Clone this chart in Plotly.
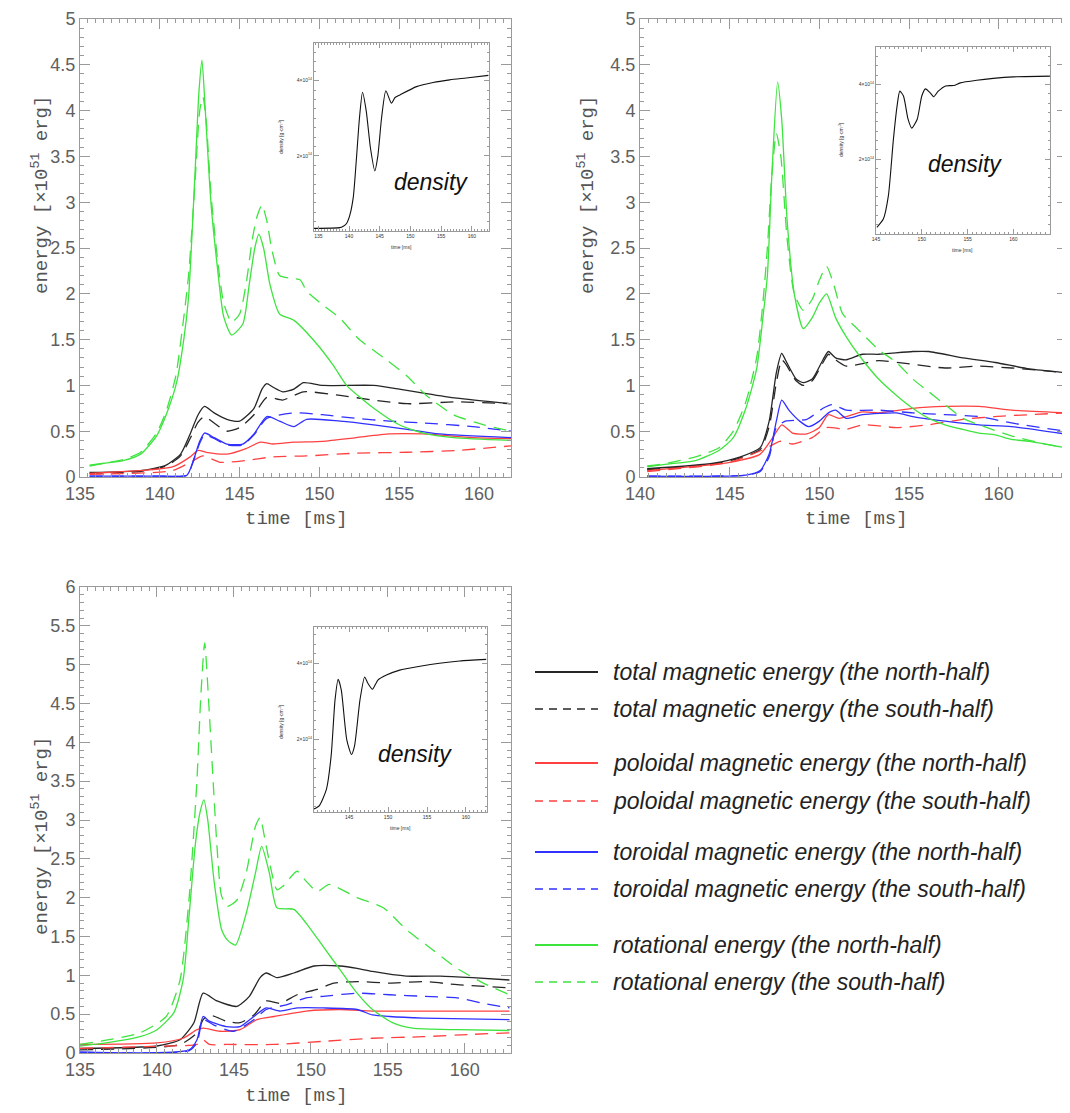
import plotly.graph_objects as go

# page geometry (reference pixel coordinates are converted below; the page body adds an 8px offset)
OFFX, OFFY = 8, 8
FW, FH = 1062, 1105

# ---------------- data: panel A (top-left) ----------------
a_rotN_t = [135.6, 136.5, 137.7, 138.8, 139.8, 140.4, 141.05, 141.5, 141.8, 142.2, 142.45, 142.64, 142.85, 143.2, 143.6, 144.0, 144.5, 145.2, 145.6, 145.95, 146.2, 146.5, 146.9, 147.5, 148.4, 149.8, 150.9, 151.7, 153.4, 155.0, 156.5, 158.4, 162.0]
a_rotN_v = [0.13, 0.15, 0.18, 0.25, 0.45, 0.68, 1.03, 1.5, 1.96, 3.3, 4.2, 4.55, 4.0, 3.0, 2.3, 1.75, 1.55, 1.67, 2.1, 2.5, 2.65, 2.5, 2.1, 1.78, 1.71, 1.46, 1.21, 1.0, 0.75, 0.57, 0.48, 0.43, 0.40]
a_rotS_t = [135.6, 136.5, 137.7, 138.8, 139.8, 140.4, 141.0, 141.4, 141.8, 142.2, 142.5, 142.7, 142.9, 143.2, 143.6, 144.0, 144.5, 145.0, 145.4, 145.8, 146.1, 146.4, 146.7, 147.0, 147.5, 148.2, 148.8, 149.2, 150.2, 151.3, 152.5, 154.2, 155.5, 156.7, 158.4, 160.3, 162.0]
a_rotS_v = [0.12, 0.15, 0.19, 0.27, 0.48, 0.72, 1.1, 1.6, 2.2, 3.2, 4.0, 4.15, 3.9, 3.1, 2.4, 1.9, 1.69, 1.78, 2.1, 2.6, 2.85, 2.97, 2.8, 2.5, 2.2, 2.17, 2.15, 2.03, 1.88, 1.73, 1.5, 1.28, 1.1, 0.89, 0.68, 0.57, 0.5]
a_totN_t = [135.6, 138.8, 140.4, 141.3, 141.9, 142.4, 142.8, 143.4, 144.2, 145.0, 145.9, 146.4, 146.7, 147.1, 147.7, 148.4, 149.0, 150.2, 153.4, 155.0, 156.7, 158.6, 162.0]
a_totN_v = [0.05, 0.07, 0.13, 0.25, 0.47, 0.68, 0.77, 0.70, 0.63, 0.61, 0.75, 0.96, 1.02, 0.98, 0.93, 0.96, 1.03, 1.0, 1.0, 0.96, 0.91, 0.86, 0.80]
a_totS_t = [135.6, 138.8, 140.4, 141.3, 141.9, 142.4, 142.8, 143.4, 144.2, 145.0, 145.9, 146.7, 147.7, 149.0, 151.3, 153.4, 155.5, 158.6, 162.0]
a_totS_v = [0.04, 0.06, 0.12, 0.23, 0.42, 0.60, 0.66, 0.59, 0.50, 0.54, 0.68, 0.87, 0.84, 0.93, 0.89, 0.84, 0.80, 0.82, 0.80]
a_torN_t = [135.6, 140.0, 141.7, 142.1, 142.5, 142.8, 143.4, 144.2, 145.2, 145.9, 146.7, 147.5, 148.4, 149.2, 151.3, 153.4, 155.5, 157.5, 162.0]
a_torN_v = [0.01, 0.01, 0.02, 0.18, 0.39, 0.48, 0.43, 0.36, 0.36, 0.47, 0.66, 0.61, 0.55, 0.63, 0.61, 0.57, 0.52, 0.47, 0.43]
a_torS_t = [135.6, 140.0, 141.7, 142.1, 142.5, 142.8, 143.4, 144.2, 145.2, 145.9, 146.7, 148.4, 150.2, 152.3, 154.4, 156.5, 159.6, 162.0]
a_torS_v = [0.01, 0.01, 0.02, 0.17, 0.37, 0.46, 0.42, 0.35, 0.35, 0.46, 0.64, 0.70, 0.68, 0.64, 0.61, 0.59, 0.55, 0.50]
a_polN_t = [135.6, 140.8, 141.9, 142.4, 142.9, 144.2, 145.4, 146.3, 147.1, 148.4, 150.2, 152.3, 154.4, 156.5, 159.6, 162.0]
a_polN_v = [0.04, 0.11, 0.22, 0.29, 0.27, 0.25, 0.31, 0.38, 0.36, 0.38, 0.39, 0.43, 0.47, 0.47, 0.43, 0.42]
a_polS_t = [135.6, 140.8, 142.1, 142.7, 143.8, 145.4, 147.1, 149.2, 152.3, 155.5, 158.6, 162.0]
a_polS_v = [0.03, 0.07, 0.18, 0.23, 0.16, 0.18, 0.22, 0.23, 0.26, 0.27, 0.29, 0.34]
a_dens_t = [134.3, 138.5, 139.0, 139.6, 140.1, 140.7, 141.2, 141.7, 142.2, 142.8, 143.5, 144.2, 144.7, 145.3, 146.0, 146.9, 147.5, 148.3, 151.0, 153.7, 156.4, 159.1, 162.7]
a_dens_v = [0.07, 0.09, 0.12, 0.2, 0.4, 0.9, 1.9, 3.0, 3.69, 3.2, 2.2, 1.6, 2.0, 3.0, 3.73, 3.4, 3.55, 3.62, 3.84, 3.95, 4.02, 4.07, 4.14]

# ---------------- data: panel B (top-right) ----------------
b_rotN_t = [140.4, 141.5, 143.1, 144.4, 145.2, 145.9, 146.5, 146.85, 147.1, 147.35, 147.67, 147.9, 148.2, 148.6, 149.1, 149.6, 150.0, 150.4, 150.9, 151.5, 152.4, 153.3, 154.3, 155.2, 156.1, 157.0, 158.0, 158.9, 159.8, 160.7, 161.7, 163.7]
b_rotN_v = [0.11, 0.14, 0.18, 0.29, 0.43, 0.75, 1.18, 1.74, 2.2, 3.3, 4.31, 3.9, 2.8, 2.0, 1.62, 1.74, 1.9, 2.0, 1.74, 1.53, 1.28, 1.07, 0.89, 0.75, 0.64, 0.57, 0.52, 0.48, 0.46, 0.41, 0.39, 0.32]
b_rotS_t = [140.4, 141.5, 143.1, 144.4, 145.2, 145.9, 146.5, 146.85, 147.1, 147.35, 147.6, 147.85, 148.2, 148.6, 149.1, 149.6, 150.0, 150.4, 150.8, 151.3, 152.0, 153.3, 154.3, 155.2, 156.1, 157.0, 158.0, 158.9, 160.7, 162.6, 163.7]
b_rotS_v = [0.12, 0.15, 0.22, 0.32, 0.5, 0.82, 1.3, 1.9, 2.5, 3.3, 3.75, 3.5, 2.6, 2.0, 1.82, 1.94, 2.15, 2.3, 2.1, 1.78, 1.64, 1.39, 1.25, 1.07, 0.93, 0.79, 0.64, 0.57, 0.45, 0.36, 0.32]
b_totN_t = [140.4, 144.1, 145.6, 146.7, 147.2, 147.6, 147.9, 148.1, 148.7, 149.1, 149.6, 150.2, 150.5, 150.9, 151.5, 152.4, 153.3, 155.2, 156.1, 158.0, 159.8, 161.7, 163.7]
b_totN_v = [0.09, 0.15, 0.22, 0.32, 0.61, 1.14, 1.35, 1.28, 1.07, 1.03, 1.07, 1.28, 1.37, 1.30, 1.28, 1.34, 1.34, 1.37, 1.37, 1.30, 1.25, 1.18, 1.14]
b_totS_t = [140.4, 144.1, 145.6, 146.7, 147.2, 147.6, 147.9, 148.1, 148.7, 149.1, 149.6, 150.2, 150.5, 150.9, 151.5, 153.3, 155.2, 157.0, 158.9, 160.7, 163.7]
b_totS_v = [0.08, 0.14, 0.21, 0.30, 0.55, 1.03, 1.28, 1.24, 1.05, 1.0, 1.05, 1.25, 1.34, 1.28, 1.21, 1.27, 1.23, 1.19, 1.21, 1.19, 1.14]
b_torN_t = [140.4, 145.9, 146.7, 147.2, 147.6, 147.9, 148.3, 148.9, 149.4, 150.0, 150.5, 150.9, 151.5, 152.4, 154.3, 155.2, 157.0, 158.9, 160.7, 163.7]
b_torN_v = [0.01, 0.02, 0.07, 0.25, 0.61, 0.84, 0.73, 0.61, 0.55, 0.61, 0.70, 0.73, 0.64, 0.68, 0.70, 0.66, 0.61, 0.57, 0.55, 0.47]
b_torS_t = [140.4, 145.9, 146.7, 147.2, 147.6, 148.1, 149.3, 150.2, 150.7, 151.5, 153.3, 155.2, 157.0, 158.9, 160.7, 163.7]
b_torS_v = [0.01, 0.02, 0.06, 0.22, 0.54, 0.61, 0.63, 0.75, 0.79, 0.73, 0.73, 0.70, 0.68, 0.66, 0.59, 0.50]
b_polN_t = [140.4, 145.0, 146.7, 147.4, 147.9, 148.5, 149.3, 150.0, 150.5, 151.1, 152.4, 153.3, 155.2, 157.0, 158.9, 160.7, 163.7]
b_polN_v = [0.07, 0.16, 0.25, 0.43, 0.57, 0.48, 0.47, 0.54, 0.68, 0.64, 0.71, 0.70, 0.75, 0.77, 0.77, 0.73, 0.70]
b_polS_t = [140.4, 145.0, 147.0, 147.8, 148.5, 149.6, 150.4, 151.5, 152.4, 154.3, 156.1, 158.0, 159.8, 163.7]
b_polS_v = [0.06, 0.16, 0.31, 0.39, 0.36, 0.43, 0.54, 0.52, 0.57, 0.54, 0.57, 0.63, 0.66, 0.70]
b_dens_t = [145.1, 145.8, 146.35, 146.9, 147.3, 147.6, 148.0, 148.5, 148.9, 149.5, 150.0, 150.4, 150.9, 151.3, 151.8, 152.6, 153.5, 154.2, 156.0, 157.8, 160.0, 164.0]
b_dens_v = [0.18, 0.4, 1.02, 2.53, 3.42, 3.82, 3.69, 3.07, 2.83, 3.07, 3.69, 3.88, 3.78, 3.67, 3.82, 3.96, 3.97, 4.04, 4.11, 4.16, 4.2, 4.22]

# ---------------- data: panel C (bottom) ----------------
c_rotN_t = [135.0, 136.7, 138.9, 140.0, 141.1, 141.7, 142.1, 142.5, 142.8, 143.05, 143.3, 143.7, 144.2, 144.6, 145.1, 145.8, 146.4, 146.8, 147.3, 147.8, 148.9, 149.7, 150.8, 151.9, 153.0, 154.0, 155.3, 156.6, 159.5, 162.9]
c_rotN_v = [0.09, 0.13, 0.21, 0.30, 0.52, 0.94, 1.8, 2.7, 3.1, 3.26, 3.0, 2.23, 1.59, 1.45, 1.39, 1.8, 2.32, 2.66, 2.32, 1.87, 1.85, 1.67, 1.37, 1.07, 0.77, 0.56, 0.39, 0.32, 0.30, 0.29]
c_rotS_t = [135.0, 138.9, 140.6, 141.5, 142.1, 142.6, 142.85, 143.1, 143.4, 143.9, 144.2, 144.6, 145.2, 145.8, 146.4, 146.7, 147.1, 147.8, 148.2, 149.1, 149.7, 150.4, 151.2, 153.0, 154.7, 156.2, 157.9, 159.5, 161.2, 162.9]
c_rotS_v = [0.11, 0.26, 0.47, 0.94, 2.02, 3.52, 4.6, 5.28, 4.38, 2.66, 2.02, 1.89, 1.97, 2.32, 2.92, 3.03, 2.66, 2.10, 2.15, 2.34, 2.21, 2.08, 2.17, 2.0, 1.87, 1.59, 1.33, 1.09, 0.90, 0.75]
c_totN_t = [135.0, 140.0, 141.5, 142.4, 143.0, 143.9, 145.2, 146.0, 146.7, 147.1, 147.8, 148.9, 150.2, 151.9, 153.0, 154.0, 156.2, 158.4, 160.5, 162.9]
c_totN_v = [0.06, 0.09, 0.17, 0.39, 0.77, 0.67, 0.60, 0.73, 0.97, 1.03, 0.97, 1.03, 1.12, 1.12, 1.09, 1.05, 0.99, 0.99, 0.97, 0.94]
c_totS_t = [135.0, 141.5, 142.6, 143.0, 143.4, 144.5, 145.4, 146.3, 147.1, 148.0, 149.1, 150.4, 151.5, 153.0, 155.1, 157.3, 159.5, 162.9]
c_totS_v = [0.04, 0.11, 0.26, 0.43, 0.49, 0.41, 0.39, 0.49, 0.67, 0.64, 0.75, 0.82, 0.90, 0.92, 0.90, 0.92, 0.88, 0.84]
c_torN_t = [135.0, 142.1, 142.6, 143.0, 143.4, 144.5, 145.4, 146.3, 147.1, 148.0, 149.1, 150.8, 153.0, 154.0, 155.1, 157.3, 162.9]
c_torN_v = [0.01, 0.04, 0.17, 0.47, 0.41, 0.34, 0.34, 0.47, 0.58, 0.54, 0.58, 0.58, 0.56, 0.49, 0.47, 0.45, 0.43]
c_torS_t = [135.0, 142.1, 142.6, 143.0, 143.7, 145.0, 146.3, 147.1, 148.4, 149.7, 150.8, 153.0, 155.1, 157.3, 159.5, 161.2, 162.9]
c_torS_v = [0.01, 0.03, 0.13, 0.43, 0.36, 0.28, 0.43, 0.56, 0.62, 0.71, 0.73, 0.77, 0.75, 0.73, 0.71, 0.64, 0.58]
c_polN_t = [135.0, 140.0, 141.7, 142.6, 143.0, 144.1, 145.4, 146.5, 147.6, 149.7, 151.9, 154.0, 156.2, 162.9]
c_polN_v = [0.11, 0.13, 0.19, 0.30, 0.32, 0.28, 0.30, 0.43, 0.47, 0.54, 0.56, 0.54, 0.54, 0.54]
c_polS_t = [135.0, 140.6, 142.6, 143.0, 143.4, 144.5, 147.6, 150.8, 154.0, 157.3, 160.5, 162.9]
c_polS_v = [0.06, 0.09, 0.11, 0.17, 0.11, 0.11, 0.11, 0.15, 0.19, 0.21, 0.24, 0.26]
c_dens_t = [140.5, 141.2, 142.1, 142.7, 143.2, 143.6, 144.0, 144.7, 145.3, 145.7, 146.4, 147.0, 147.4, 148.0, 148.7, 149.8, 151.5, 154.1, 156.6, 159.2, 162.6]
c_dens_v = [0.18, 0.27, 0.7, 1.57, 3.04, 3.58, 3.3, 2.0, 1.61, 1.83, 3.04, 3.64, 3.48, 3.32, 3.56, 3.69, 3.82, 3.92, 4.0, 4.06, 4.1]

# ---------------- labels ----------------
legend_labels = [
    "total magnetic energy (the north-half)",
    "total magnetic energy (the south-half)",
    "poloidal magnetic energy (the north-half)",
    "poloidal magnetic energy (the south-half)",
    "toroidal magnetic energy (the north-half)",
    "toroidal magnetic energy (the south-half)",
    "rotational energy (the north-half)",
    "rotational energy (the south-half)",
]
energy_title = "energy [×10<sup>51</sup> erg]"
time_title = "time [ms]"
dens_title = "density [g·cm<sup>-3</sup>]"
dens_ticktext = ["2×10<sup>14</sup>", "4×10<sup>14</sup>"]

BLACK, RED, BLUE, GREEN = "#262626", "#ff4040", "#3030ff", "#3ee43e"
DASH = "13px,8px"

fig = go.Figure()

def add(t, v, color, dashed, xa, ya, width=1.3):
    fig.add_trace(go.Scatter(
        x=t, y=v, mode="lines", xaxis=xa, yaxis=ya, showlegend=False,
        line=dict(color=color, width=width, dash=DASH if dashed else "solid",
                  shape="spline", smoothing=0.6)))

panels = [
    ("x", "y", "x2", "y2",
     [(a_totN_t, a_totN_v, BLACK, False), (a_totS_t, a_totS_v, BLACK, True),
      (a_polN_t, a_polN_v, RED, False), (a_polS_t, a_polS_v, RED, True),
      (a_torN_t, a_torN_v, BLUE, False), (a_torS_t, a_torS_v, BLUE, True),
      (a_rotN_t, a_rotN_v, GREEN, False), (a_rotS_t, a_rotS_v, GREEN, True)],
     (a_dens_t, a_dens_v)),
    ("x3", "y3", "x4", "y4",
     [(b_totN_t, b_totN_v, BLACK, False), (b_totS_t, b_totS_v, BLACK, True),
      (b_polN_t, b_polN_v, RED, False), (b_polS_t, b_polS_v, RED, True),
      (b_torN_t, b_torN_v, BLUE, False), (b_torS_t, b_torS_v, BLUE, True),
      (b_rotN_t, b_rotN_v, GREEN, False), (b_rotS_t, b_rotS_v, GREEN, True)],
     (b_dens_t, b_dens_v)),
    ("x5", "y5", "x6", "y6",
     [(c_totN_t, c_totN_v, BLACK, False), (c_totS_t, c_totS_v, BLACK, True),
      (c_polN_t, c_polN_v, RED, False), (c_polS_t, c_polS_v, RED, True),
      (c_torN_t, c_torN_v, BLUE, False), (c_torS_t, c_torS_v, BLUE, True),
      (c_rotN_t, c_rotN_v, GREEN, False), (c_rotS_t, c_rotS_v, GREEN, True)],
     (c_dens_t, c_dens_v)),
]
for xa, ya, xi, yi, series, dens in panels:
    for t, v, c, d in series:
        add(t, v, c, d, xa, ya)
    add(dens[0], dens[1], "#111111", False, xi, yi, width=1.1)

def px(x):
    return min(1.0, max(0.0, (x - OFFX) / FW))

def py(y):
    return min(1.0, max(0.0, 1 - (y - OFFY) / FH))

AX = "#9a9a9a"
TICKFONT = dict(family="Liberation Sans", size=18, color="#606060")

def main_x(dom, rng, anchor):
    return dict(domain=[px(dom[0]), px(dom[1])], range=rng, anchor=anchor, automargin=False,
                showline=True, linecolor=AX, linewidth=1, mirror="allticks",
                ticks="inside", ticklen=10, tickcolor=AX, tickwidth=1,
                ticklabeloverflow="allow",
                tick0=135, dtick=5, showgrid=False, zeroline=False, tickfont=TICKFONT,
                minor=dict(ticks="inside", ticklen=4, tickcolor=AX, dtick=0.5, showgrid=False))

def main_y(dom, rng, anchor):
    return dict(domain=[py(dom[1]), py(dom[0])], range=rng, anchor=anchor, automargin=False,
                showline=True, linecolor=AX, linewidth=1, mirror="allticks",
                ticks="inside", ticklen=10, tickcolor=AX, tickwidth=1,
                ticklabeloverflow="allow",
                tick0=0, dtick=0.5, showgrid=False, zeroline=False, tickfont=TICKFONT,
                minor=dict(ticks="inside", ticklen=4, tickcolor=AX, dtick=0.1, showgrid=False))

INFONT = dict(family="Liberation Sans", size=5, color="#333333")

def inset_x(dom, rng, anchor, tv):
    return dict(domain=[px(dom[0]), px(dom[1])], range=rng, anchor=anchor, automargin=False,
                showline=True, linecolor=AX, linewidth=1, mirror="allticks",
                ticks="inside", ticklen=5, tickcolor=AX, tickwidth=1,
                tickvals=tv, ticktext=[str(v) for v in tv],
                showgrid=False, zeroline=False, tickfont=INFONT,
                minor=dict(ticks="inside", ticklen=2, tickcolor=AX, dtick=0.5, showgrid=False))

def inset_y(dom, rng, anchor):
    return dict(domain=[py(dom[1]), py(dom[0])], range=rng, anchor=anchor, automargin=False,
                showline=True, linecolor=AX, linewidth=1, mirror="allticks",
                ticks="inside", ticklen=5, tickcolor=AX, tickwidth=1,
                tickvals=[2, 4], ticktext=dens_ticktext,
                showgrid=False, zeroline=False, tickfont=INFONT,
                minor=dict(ticks="inside", ticklen=2, tickcolor=AX, dtick=0.25, showgrid=False))

layout = dict(
    width=FW, height=FH, margin=dict(l=0, r=0, t=0, b=0, pad=0, autoexpand=False),
    autosize=False,
    paper_bgcolor="white", plot_bgcolor="rgba(0,0,0,0)", showlegend=False,
    xaxis=main_x((80, 511), [135, 162], "y"),
    yaxis=main_y((19, 477), [0, 5], "x"),
    xaxis2=inset_x((314, 489), [134.3, 162.8], "y2", [135, 140, 145, 150, 155, 160]),
    yaxis2=inset_y((43, 231), [0, 5], "x2"),
    xaxis3=main_x((640, 1067), [140, 163.8], "y3"),
    yaxis3=main_y((19, 477), [0, 5], "x3"),
    xaxis4=inset_x((876, 1050), [145, 164], "y4", [145, 150, 155, 160]),
    yaxis4=inset_y((47, 234), [0, 5], "x4"),
    xaxis5=main_x((80, 511), [135, 163], "y5"),
    yaxis5=main_y((587, 1053), [0, 6], "x5"),
    xaxis6=inset_x((314, 487), [140.5, 162.7], "y6", [145, 150, 155, 160]),
    yaxis6=inset_y((627, 812), [0.1, 4.95], "x6"),
)
fig.update_layout(**layout)

TITLEFONT = dict(family="Liberation Mono", size=19, color="#555555")
ann = []
def note(text, x, y, font, angle=0, xanchor="center"):
    ann.append(dict(text=text, x=px(x), y=py(y), xref="paper", yref="paper",
                    showarrow=False, textangle=angle, font=font,
                    xanchor=xanchor, yanchor="middle"))

for (x, y) in [(40, 195), (586, 195), (40, 836)]:
    note(energy_title, x, y, dict(family="Liberation Mono", size=19, color="#555555"), angle=-90)
for (x, y) in [(296, 519), (856, 519), (296, 1096)]:
    note(time_title, x, y, TITLEFONT)

SMALL = dict(family="Liberation Sans", size=5, color="#333333")
for (x, y) in [(401, 247), (962, 250), (400, 828)]:
    note(time_title, x, y, SMALL)
for (x, y) in [(281, 137), (841, 140), (281, 722)]:
    note(dens_title, x, y, SMALL, angle=-90)

DFONT = dict(family="Liberation Sans", size=23, color="#111111", style="italic")
for (x, y) in [(431, 182), (965, 164), (415, 754)]:
    note("density", x, y, DFONT)

# legend (drawn manually to match the original layout)
legend_rows = [672, 709, 763, 801, 852, 889, 945, 982]
legend_colors = [BLACK, BLACK, RED, RED, BLUE, BLUE, GREEN, GREEN]
shapes = []
for i, (label, yy, col) in enumerate(zip(legend_labels, legend_rows, legend_colors)):
    dashed = i % 2 == 1
    shapes.append(dict(type="line", xref="paper", yref="paper",
                       x0=px(535), x1=px(598), y0=py(yy), y1=py(yy),
                       line=dict(color=col, width=2 if not dashed else 1.5,
                                 dash="8px,6px" if dashed else "solid")))
    note(label, 611, yy, dict(family="Liberation Sans", size=23, color="#222222", style="italic"),
         xanchor="left")

fig.update_layout(annotations=ann, shapes=shapes)
fig.write_html("out.html")
